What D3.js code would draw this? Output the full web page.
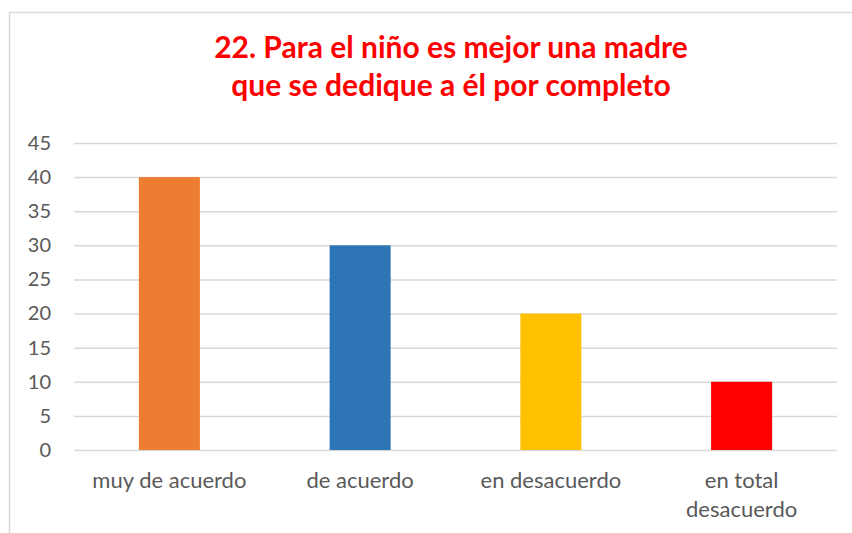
<!DOCTYPE html>
<html>
<head>
<meta charset="utf-8">
<script src="https://cdn.jsdelivr.net/npm/d3@7"></script>
<style>
  body { margin: 0; background: #fff; }
  svg { display: block; font-family: Lato, "Open Sans", sans-serif; }
</style>
</head>
<body>
<svg id="chart" width="852" height="533"></svg>
<script>
// Chart data
var categories = ["muy de acuerdo", "de acuerdo", "en desacuerdo", "en total desacuerdo"];
var values = [40, 30, 20, 10];
var barColors = ["#ED7D31", "#2E75B6", "#FFC000", "#FF0000"];
var yTicks = [0, 5, 10, 15, 20, 25, 30, 35, 40, 45];
var titleLines = ["22. Para el niño es mejor una madre", "que se dedique a él por completo"];

var svg = d3.select("#chart"),
    margin = {top: 143, left: 74, bottom: 83, right: 15},
    width = +svg.attr("width"),
    height = +svg.attr("height");

// Outer border of the chart area
svg.append("rect")
    .attr("x", 9.5)
    .attr("y", 12.5)
    .attr("width", width)
    .attr("height", height)
    .attr("fill", "none")
    .attr("stroke", "#d9d9d9")
    .attr("stroke-width", 1.5);

// Title
svg.append("text")
    .attr("x", 451)
    .attr("y", 58)
    .attr("fill", "#FF0000")
    .attr("font-weight", "bold")
    .attr("font-size", 30)
    .style("text-anchor", "middle")
    .selectAll("tspan")
    .data(titleLines)
    .enter().append("tspan")
    .attr("x", 451)
    .attr("dy", (d, i) => i ? 38 : 0)
    .text(d => d);

// Scales
var x = d3.scaleBand()
    .domain(categories)
    .range([margin.left, width - margin.right])
    .paddingInner(0.68)
    .paddingOuter(0.34);

var y = d3.scaleLinear()
    .domain([0, 45])
    .range([height - margin.bottom, margin.top]);

// Gridlines + y labels
var yAxis = d3.axisLeft(y)
    .tickValues(yTicks)
    .tickSize(-(width - margin.right - margin.left))
    .tickPadding(23);

var gy = svg.append("g")
    .attr("transform", `translate(${margin.left},0)`)
    .call(yAxis);

gy.select(".domain").remove();
gy.selectAll(".tick line")
    .attr("stroke", "#d9d9d9")
    .attr("stroke-width", 1.5);
gy.selectAll(".tick text")
    .attr("fill", "#595959")
    .attr("font-size", 20)
    .attr("font-family", "Lato, 'Open Sans', sans-serif");

// Bars
svg.selectAll("rect.bar")
    .data(values)
    .enter().append("rect")
    .attr("class", "bar")
    .attr("x", (d, i) => x(categories[i]))
    .attr("y", d => y(d))
    .attr("width", x.bandwidth())
    .attr("height", d => y(0) - y(d))
    .attr("fill", (d, i) => barColors[i]);

// Category labels (wrap the long one)
var labels = svg.selectAll("text.cat")
    .data(categories)
    .enter().append("text")
    .attr("class", "cat")
    .attr("fill", "#595959")
    .attr("font-size", 22)
    .style("text-anchor", "middle")
    .attr("y", y(0) + 38);

labels.each(function (d) {
    var cx = x(d) + x.bandwidth() / 2;
    var lines = d === "en total desacuerdo" ? ["en total", "desacuerdo"] : [d];
    d3.select(this).selectAll("tspan")
        .data(lines)
        .enter().append("tspan")
        .attr("x", cx)
        .attr("dy", (l, i) => i ? 29 : 0)
        .text(l => l);
});
</script>
</body>
</html>
